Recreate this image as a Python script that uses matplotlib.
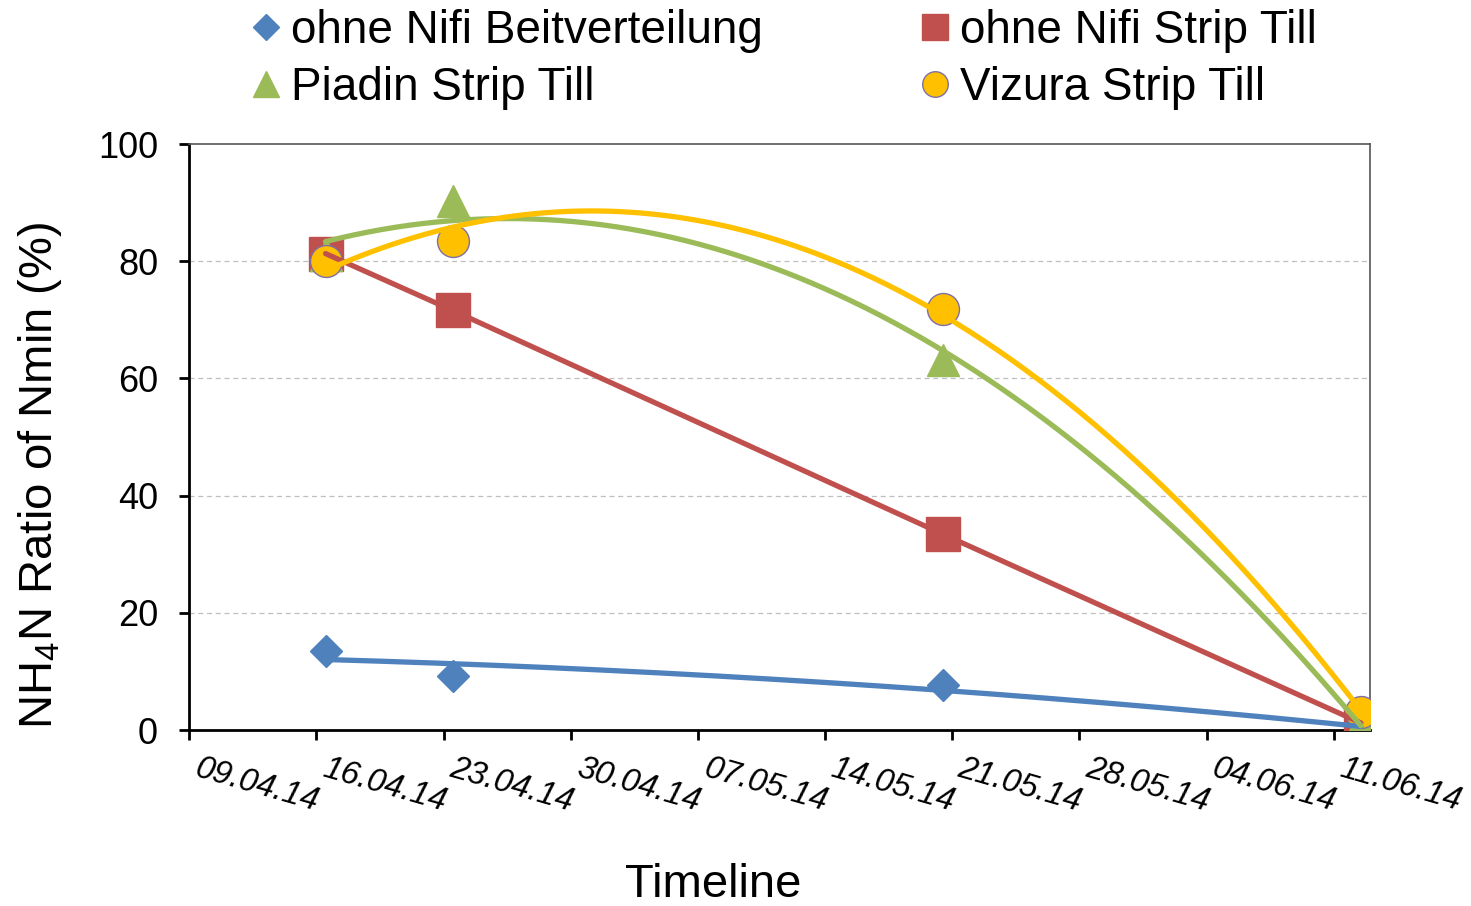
import numpy as np
import pandas as pd
import matplotlib
matplotlib.use("Agg")
import matplotlib.pyplot as plt
import matplotlib.dates as mdates
from matplotlib.transforms import offset_copy

plt.rcParams["font.family"] = ["Liberation Sans", "DejaVu Sans"]
plt.rcParams["mathtext.fontset"] = "custom"
plt.rcParams["mathtext.rm"] = "Liberation Sans"
plt.rcParams["mathtext.it"] = "Liberation Sans:italic"

# ---- data -------------------------------------------------------------
sample_dates = ["16.04.14", "23.04.14", "20.05.14", "12.06.14"]
ohne_nifi_beit = [13.5, 9.2, 7.7, 0.3]
ohne_nifi_strip = [81.3, 71.6, 33.4, 1.2]
piadin_strip = [81.0, 90.3, 63.2, 1.2]
vizura_strip = [80.0, 83.5, 71.8, 3.0]

series_labels = ["ohne Nifi Beitverteilung", "ohne Nifi Strip Till",
                 "Piadin Strip Till", "Vizura Strip Till"]
tick_labels = ["09.04.14", "16.04.14", "23.04.14", "30.04.14", "07.05.14",
               "14.05.14", "21.05.14", "28.05.14", "04.06.14", "11.06.14"]
y_ticks = [0, 20, 40, 60, 80, 100]
axis_last_day = "12.06.14"

# ---- styles -----------------------------------------------------------
BLUE, RED, GREEN, YELLOW = "#4F81BD", "#C0504D", "#9BBB59", "#FFC000"


def to_num(labels):
    return mdates.date2num(pd.to_datetime(labels, format="%d.%m.%y"))


# each day occupies one slot; values sit in the middle of their day
x = to_num(sample_dates) + 0.5
tick_x = to_num(tick_labels)
x_min = tick_x[0]
x_max = to_num([axis_last_day])[0] + 1.0

fig = plt.figure(figsize=(14.71, 9.06), dpi=100)
ax = fig.add_axes([189.3 / 1471, 1 - 730 / 906, (1370 - 189.3) / 1471, (730 - 144) / 906])


def trend(xv, yv, color, deg=2):
    x0 = xv[0]
    c = np.polyfit(xv - x0, yv, deg)
    xs = np.linspace(xv[0], xv[-1], 300)
    ax.plot(xs, np.polyval(c, xs - x0), color=color, lw=3.8,
            solid_capstyle="round", zorder=5)


# markers
h_blue, = ax.plot(x, ohne_nifi_beit, ls="none", marker="D", ms=16.5, color=BLUE,
                  mec=BLUE, label=series_labels[0], zorder=3)
h_red, = ax.plot(x, ohne_nifi_strip, ls="none", marker="s", ms=24, color=RED,
                 mec=RED, label=series_labels[1], zorder=3)
h_green, = ax.plot(x, piadin_strip, ls="none", marker="^", ms=23, color=GREEN,
                   mec=GREEN, label=series_labels[2], zorder=3)
h_yellow, = ax.plot(x, vizura_strip, ls="none", marker="o", ms=23, color=YELLOW,
                    mec="#7E6FA6", mew=1.0, label=series_labels[3], zorder=3)

# connecting line and trend curves
ax.plot(x, ohne_nifi_strip, color=RED, lw=3.8, solid_capstyle="round", zorder=5)
trend(x, np.array(ohne_nifi_beit), BLUE)
trend(x, np.array(piadin_strip), GREEN)
trend(x, np.array(vizura_strip), YELLOW)

# axes
ax.set_xlim(x_min, x_max)
ax.set_ylim(0, 100)
ax.set_yticks(y_ticks)
ax.set_yticklabels([str(v) for v in y_ticks], fontsize=26)
ax.set_xticks(tick_x)
ax.tick_params(axis="x", labelbottom=False, direction="out", length=7.5, width=2, color="black")
ax.tick_params(axis="y", direction="out", length=7.5, width=2, pad=15, color="black")

for yv in y_ticks[1:-1]:
    ax.axhline(yv, color="#BFBFBF", lw=0.9, ls=(0, (4, 3)), zorder=1)

for side in ("left", "bottom"):
    ax.spines[side].set_linewidth(2.0)
    ax.spines[side].set_color("black")
for side in ("top", "right"):
    ax.spines[side].set_linewidth(1.2)
    ax.spines[side].set_color("#555555")

# slanted date labels
lab_tr = offset_copy(ax.get_xaxis_transform(), fig=fig, x=11, y=-23, units="dots")
for tx, tl in zip(tick_x, tick_labels):
    ax.text(tx, 0, tl, transform=lab_tr, ha="left", va="top", rotation=-16,
            rotation_mode="anchor", fontsize=23.5, fontstyle="italic", clip_on=False)

fig.text(713 / 1471, 1 - 885 / 906, "Timeline", fontsize=34, ha="center", va="center")
fig.text(40 / 1471, 1 - 475 / 906, "NH$_4$N Ratio of Nmin (%)", fontsize=34,
         rotation=90, ha="center", va="center")

fig.legend(handles=[h_blue, h_green, h_red, h_yellow],
           labels=[series_labels[0], series_labels[2], series_labels[1], series_labels[3]],
           ncol=2, loc="upper left", bbox_to_anchor=(250 / 1471, 1 - 9 / 906),
           frameon=False, fontsize=33, markerscale=0.8, handlelength=0.7,
           handletextpad=0.2, columnspacing=3.4, labelspacing=0.28,
           borderpad=0, borderaxespad=0)

fig.savefig("out.png", dpi=100)
